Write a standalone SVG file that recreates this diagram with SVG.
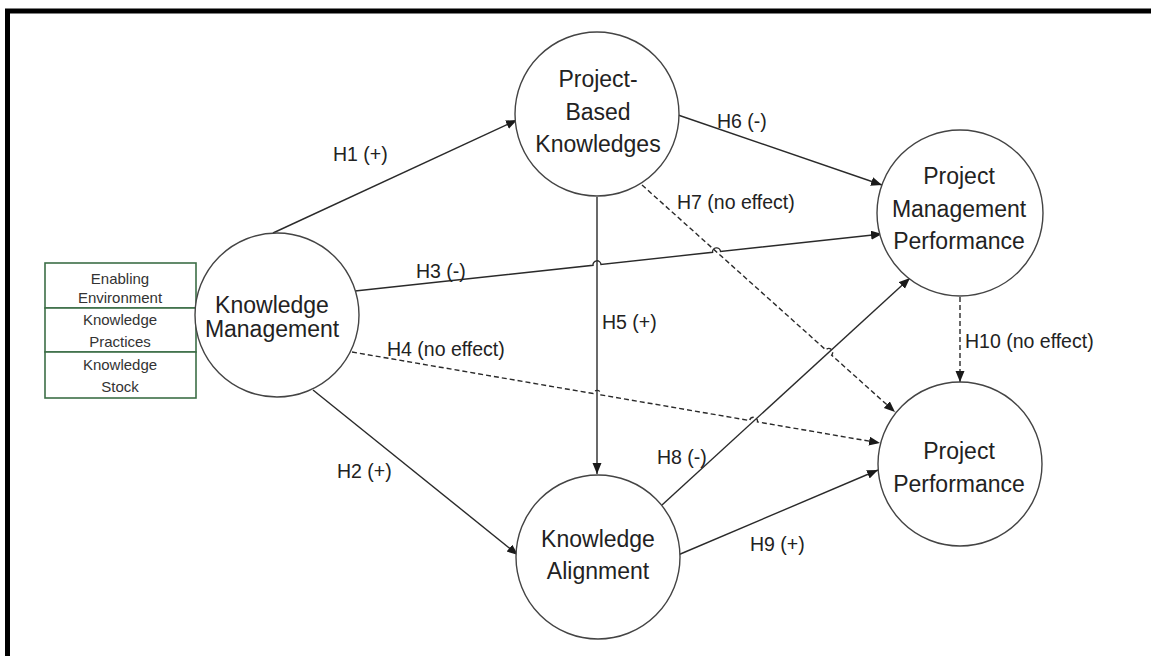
<svg xmlns="http://www.w3.org/2000/svg" width="1151" height="656" viewBox="0 0 1151 656">
<defs>
<marker id="arr" markerUnits="userSpaceOnUse" markerWidth="12" markerHeight="10" refX="11" refY="4.5" orient="auto">
<path d="M0,0 L11,4.5 L0,9 z" fill="#1a1a1a"/>
</marker>
<style>
.node circle{fill:#fff;stroke:#444;stroke-width:1.4}
.ntext{font-family:"Liberation Sans",Arial,sans-serif;font-size:23px;fill:#222;text-anchor:middle}
.btext{font-family:"Liberation Sans",Arial,sans-serif;font-size:15px;fill:#333;text-anchor:middle}
.lbl{font-family:"Liberation Sans",Arial,sans-serif;font-size:19.5px;fill:#222}
.box{fill:#fff;stroke:#3c6e47;stroke-width:1.6}
.edge{fill:none;stroke:#2a2a2a;stroke-width:1.4;marker-end:url(#arr)}
.dash{stroke-dasharray:5,3}
</style>
</defs>
<rect width="1151" height="656" fill="#fff"/>
<path d="M7.5,656 V11 H1151" fill="none" stroke="#000" stroke-width="5"/>

<g id="connectors">
<path id="e-h1" class="edge" d="M273,233 L517,120"/>
<path id="e-h2" class="edge" d="M313,390 L518,555"/>
<path id="e-h3" class="edge" d="M355,291 L593.02,265.26 A4,4 0 0 1 600.98,264.40 L712.58,252.32 A4,4 0 0 1 720.54,251.46 L882,234"/>
<path id="e-h4" class="edge dash" d="M352,352 L593.06,393.55 A4,4 0 0 1 600.94,394.91 L749.61,420.53 A4,4 0 0 1 757.49,421.89 L880,443"/>
<path id="e-h5" class="edge" d="M597,197 L597,474"/>
<path id="e-h6" class="edge" d="M678,115 L882,185"/>
<path id="e-h7" class="edge dash" d="M642,185 L825.67,349.80 A4,4 0 0 1 831.63,355.14 L895,412"/>
<path id="e-h8" class="edge" d="M662,505 L910,278"/>
<path id="e-h9" class="edge" d="M678,555 L878,470"/>
<path id="e-h10" class="edge dash" d="M960,297 L960,382"/>
<text class="lbl" x="333" y="161">H1 (+)</text>
<text class="lbl" x="337" y="478">H2 (+)</text>
<text class="lbl" x="416" y="278">H3 (-)</text>
<text class="lbl" x="387" y="356">H4 (no effect)</text>
<text class="lbl" x="602" y="329">H5 (+)</text>
<text class="lbl" x="717" y="128">H6 (-)</text>
<text class="lbl" x="677" y="209">H7 (no effect)</text>
<text class="lbl" x="657" y="464">H8 (-)</text>
<text class="lbl" x="750" y="551">H9 (+)</text>
<text class="lbl" x="965" y="348">H10 (no effect)</text>
</g>

<g id="km-dimensions">
<rect class="box" x="45" y="263" width="151" height="45"/>
<rect class="box" x="45" y="308" width="151" height="44"/>
<rect class="box" x="45" y="352" width="151" height="46"/>
<text class="btext" x="120" y="284">Enabling</text>
<text class="btext" x="120" y="303">Environment</text>
<text class="btext" x="120" y="325">Knowledge</text>
<text class="btext" x="120" y="347">Practices</text>
<text class="btext" x="120" y="370">Knowledge</text>
<text class="btext" x="120" y="392">Stock</text>
</g>

<g id="node-km" class="node">
<circle cx="277" cy="315" r="82"/>
<text class="ntext" x="272" y="313">Knowledge</text>
<text class="ntext" x="272" y="337">Management</text>
</g>

<g id="node-pbk" class="node">
<circle cx="597" cy="114" r="82"/>
<text class="ntext" x="598" y="87">Project-</text>
<text class="ntext" x="598" y="120">Based</text>
<text class="ntext" x="598" y="152">Knowledges</text>
</g>

<g id="node-pmp" class="node">
<circle cx="960" cy="213" r="83"/>
<text class="ntext" x="959" y="184">Project</text>
<text class="ntext" x="959" y="217">Management</text>
<text class="ntext" x="959" y="249">Performance</text>
</g>

<g id="node-pp" class="node">
<circle cx="960" cy="464" r="82"/>
<text class="ntext" x="959" y="459">Project</text>
<text class="ntext" x="959" y="492">Performance</text>
</g>

<g id="node-ka" class="node">
<circle cx="598" cy="557" r="82"/>
<text class="ntext" x="598" y="547">Knowledge</text>
<text class="ntext" x="598" y="579">Alignment</text>
</g>
</svg>
